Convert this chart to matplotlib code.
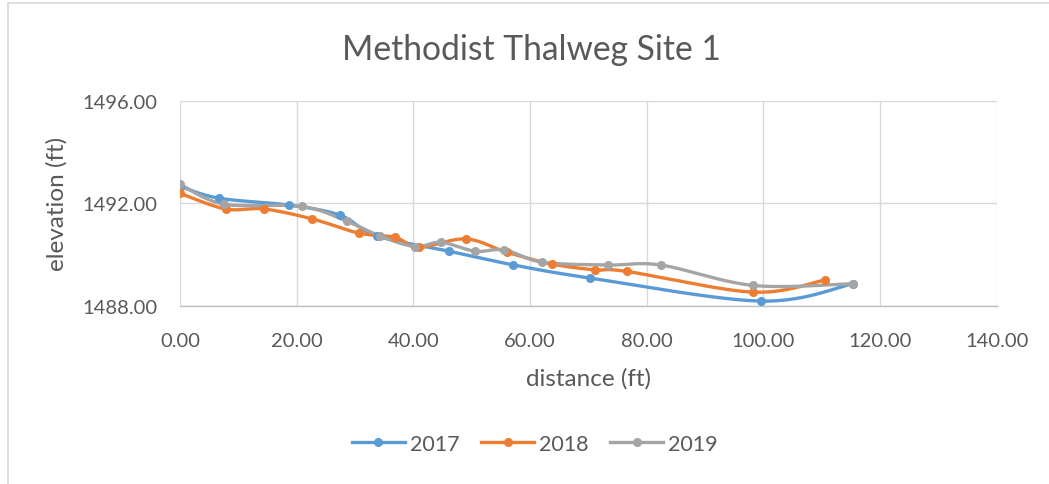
import numpy as np
import matplotlib
matplotlib.use("Agg")
import matplotlib.pyplot as plt
from matplotlib.patches import Rectangle

plt.rcParams['font.family'] = ['Lato', 'DejaVu Sans']

x2017 = [0.0, 6.7, 18.7, 27.4, 33.7, 46.1, 57.0, 70.3, 99.6, 115.4]
y2017 = [1492.66, 1492.20, 1491.93, 1491.54, 1490.73, 1490.13, 1489.60, 1489.08, 1488.18, 1488.86]

x2018 = [0.0, 7.8, 14.4, 22.7, 30.6, 36.9, 40.9, 49.0, 56.0, 63.7, 71.1, 76.6, 98.2, 110.5]
y2018 = [1492.39, 1491.78, 1491.78, 1491.39, 1490.84, 1490.67, 1490.28, 1490.61, 1490.09, 1489.63, 1489.40, 1489.34, 1488.53, 1489.00]

x2019 = [0.0, 7.5, 20.9, 28.6, 34.3, 40.3, 44.7, 50.6, 55.6, 62.1, 73.3, 82.4, 98.3, 115.4]
y2019 = [1492.75, 1491.97, 1491.88, 1491.30, 1490.72, 1490.31, 1490.48, 1490.13, 1490.18, 1489.70, 1489.59, 1489.59, 1488.79, 1488.86]

series = [("2017", x2017, y2017, "#5B9BD5"),
          ("2018", x2018, y2018, "#ED7D31"),
          ("2019", x2019, y2019, "#A5A5A5")]

x_ticks = [0, 20, 40, 60, 80, 100, 120, 140]
y_ticks = [1488, 1492, 1496]


def smooth(xs, ys, n=30):
    """Excel-like Bezier smoothing through the given points."""
    p = np.column_stack([xs, ys]).astype(float)
    out = [p[0]]
    for i in range(len(p) - 1):
        p0 = p[i - 1] if i > 0 else p[i]
        p1 = p[i]
        p2 = p[i + 1]
        p3 = p[i + 2] if i + 2 < len(p) else p[i + 1]
        c1 = p1 + (p2 - p0) / 6.0
        c2 = p2 - (p3 - p1) / 6.0
        t = np.linspace(0, 1, n)[1:, None]
        seg = ((1 - t) ** 3) * p1 + 3 * ((1 - t) ** 2) * t * c1 + 3 * (1 - t) * t ** 2 * c2 + t ** 3 * p2
        out.extend(seg)
    out = np.array(out)
    return out[:, 0], out[:, 1]


W, H = 1049, 485
fig = plt.figure(figsize=(W / 100, H / 100), dpi=100)
fig.patch.set_facecolor('white')
fig.add_artist(Rectangle((8 / W, -0.2), 1.2, 1.2 - 4 / H, transform=fig.transFigure,
                         fill=False, edgecolor='#D9D9D9', linewidth=1.2))

left, right = 180 / W, 996.7 / W
top, bottom = 1 - 102 / H, 1 - 306.7 / H
ax = fig.add_axes([left, bottom, right - left, top - bottom])

for name, xs, ys, c in series:
    sx, sy = smooth(xs, ys)
    ax.plot(sx, sy, color=c, lw=2.4, solid_capstyle='round', zorder=3)
    ax.plot(xs, ys, 'o', color=c, ms=5.5, zorder=4)
    ax.plot([], [], '-o', color=c, lw=2.4, ms=5.5, label=name)

ax.set_xlim(0, 140)
ax.set_ylim(1488, 1496)
ax.set_xticks(x_ticks)
ax.set_yticks(y_ticks)
ax.set_xticklabels([f"{v:.2f}" for v in x_ticks])
ax.set_yticklabels([f"{v:.2f}" for v in y_ticks])
ax.grid(True, color='#D9D9D9', lw=1)
ax.set_axisbelow(True)
for s in ['top', 'right', 'left']:
    ax.spines[s].set_visible(False)
ax.spines['bottom'].set_color('#BFBFBF')
ax.spines['bottom'].set_linewidth(1)
ax.tick_params(length=0, labelsize=14.5, colors='#595959')
ax.tick_params(axis='x', pad=19)
ax.tick_params(axis='y', pad=16.5)

fig.text(588 / W, 1 - 379 / H, "distance (ft)", ha='center', va='center',
         fontsize=17.5, color='#595959')
fig.text(57 / W, 1 - 204 / H, "elevation (ft)", ha='center', va='center',
         fontsize=17.5, color='#595959', rotation=90)

fig.text(531 / W, 1 - 50 / H, "Methodist Thalweg Site 1", ha='center', va='center',
         fontsize=24.2, color='#595959')

leg = fig.legend(loc='center', bbox_to_anchor=(535 / W, 1 - 445 / H), ncol=3, frameon=False,
                 fontsize=15.5, handlelength=2.45, columnspacing=1.0, handletextpad=0.25)
for t in leg.get_texts():
    t.set_color('#595959')

fig.savefig("out.png", dpi=100, facecolor='white')
